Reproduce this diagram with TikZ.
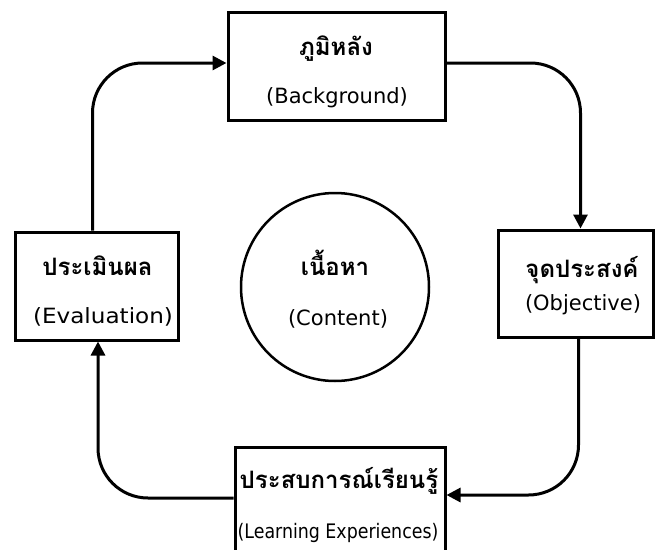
\documentclass[tikz,border=0pt]{standalone}
\usepackage{fontspec}
\setmainfont{DejaVu Sans}
\newfontfamily\latinwide{DejaVu Sans}[FakeStretch=1.1]
\newfontfamily\latincond{DejaVu Sans}[FakeStretch=0.87]
\newfontfamily\thaifont[Script=Thai]{Loma}
\usetikzlibrary{arrows.meta}
\begin{document}
\begin{tikzpicture}[x=1pt,y=-1pt,
  box/.style={draw, line width=3pt, rectangle, inner sep=0pt},
  ring/.style={draw, line width=2.5pt, circle, inner sep=0pt},
  conn/.style={draw, line width=3pt, rounded corners=50pt,
    -{Triangle[length=14pt,width=14pt]}},
  th/.style={anchor=base, inner sep=0pt, font=\thaifont\bfseries\fontsize{24}{28}\selectfont},
  en/.style={anchor=base, inner sep=0pt, font=\fontsize{21}{25}\selectfont}]
\useasboundingbox (0,0) rectangle (656,549);
\node[box, minimum width=217pt, minimum height=108pt] (bg) at (336.5,66) {};
\node[box, minimum width=163pt, minimum height=108pt] (ev) at (96.5,286) {};
\node[box, minimum width=155pt, minimum height=107pt] (obj) at (575.5,283.5) {};
\node[box, minimum width=210pt, minimum height=108pt] (le) at (340,501) {};
\node[ring, minimum size=188pt] (ct) at (335,287) {};

\node[th] (bgth) at (336,55) {ภูมิหลัง};
\node[en] (bgen) at (337,103) {(Background)};
\node[th] (evth) at (97.5,275) {ประเมินผล};
\node[en, font=\latinwide\fontsize{21}{25}\selectfont] (even) at (103,323) {(Evaluation)};
\node[th] (objth) at (582,277) {จุดประสงค์};
\node[en] (objen) at (583,310) {(Objective)};
\node[th] (leth) at (339,488) {ประสบการณ์เรียนรู้};
\node[en, font=\latincond\fontsize{20}{24}\selectfont] (leen) at (338,538) {(Learning Experiences)};
\node[th] (ctth) at (335,275) {เนื้อหา};
\node[en] (cten) at (338,325) {(Content)};

\draw[conn] ([xshift=-4pt]ev.north) |- ([yshift=3pt]bg.west);
\draw[conn] ([yshift=3pt]bg.east) -| ([xshift=5pt]obj.north);
\draw[conn] ([xshift=3pt]obj.south) |- ([yshift=6pt]le.east);
\draw[conn] ([yshift=3pt]le.west) -| ([xshift=1.5pt]ev.south);
\end{tikzpicture}
\end{document}
